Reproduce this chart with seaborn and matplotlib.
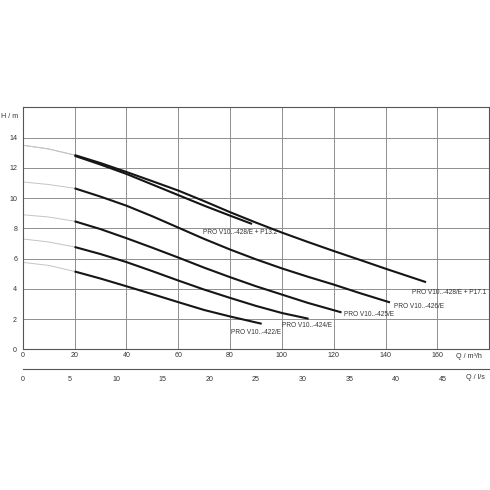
import matplotlib
matplotlib.use("Agg")
import matplotlib.pyplot as plt
import seaborn as sns
import pandas as pd

# ---- data (Q in m3/h, H in m) ----
names = ["PRO V10..-428/E + P17.1", "PRO V10..-428/E + P13.2", "PRO V10..-426/E",
         "PRO V10..-425/E", "PRO V10..-424/E", "PRO V10..-422/E"]

thin_q = [0, 10, 20]
thin_h = [
    [13.5, 13.25, 12.85],
    [13.5, 13.25, 12.85],
    [11.07, 10.9, 10.65],
    [8.9, 8.75, 8.47],
    [7.3, 7.1, 6.77],
    [5.75, 5.55, 5.15],
]

q1 = [20, 30, 40, 50, 60, 70, 80, 90, 100, 110, 120, 130, 140, 150, 155.6]
h1 = [12.85, 12.32, 11.73, 11.12, 10.5, 9.8, 9.07, 8.38, 7.72, 7.1, 6.5, 5.92, 5.33, 4.76, 4.44]
q2 = [20, 30, 40, 50, 60, 70, 80, 88.5]
h2 = [12.8, 12.22, 11.6, 10.9, 10.2, 9.5, 8.84, 8.29]
q3 = [20, 30, 40, 50, 60, 70, 80, 90, 100, 110, 120, 130, 141.7]
h3 = [10.65, 10.1, 9.5, 8.8, 8.05, 7.3, 6.6, 5.95, 5.35, 4.8, 4.28, 3.72, 3.1]
q4 = [20, 30, 40, 50, 60, 70, 80, 90, 100, 110, 123]
h4 = [8.47, 7.95, 7.35, 6.72, 6.07, 5.4, 4.77, 4.17, 3.62, 3.07, 2.44]
q5 = [20, 30, 40, 50, 60, 70, 80, 90, 100, 110.3]
h5 = [6.77, 6.3, 5.77, 5.17, 4.55, 3.95, 3.4, 2.87, 2.4, 2.02]
q6 = [20, 30, 40, 50, 60, 70, 80, 92.2]
h6 = [5.15, 4.68, 4.17, 3.65, 3.12, 2.6, 2.17, 1.69]

thick_q = [q1, q2, q3, q4, q5, q6]
thick_h = [h1, h2, h3, h4, h5, h6]

# label anchor (left edge, vertical centre) in data units
label_q = [150.1, 69.6, 143.4, 124.0, 100.2, 80.5]
label_h = [3.77, 7.73, 2.80, 2.29, 1.60, 1.09]

x_ticks = [0, 20, 40, 60, 80, 100, 120, 140, 160]
y_ticks = [0, 2, 4, 6, 8, 10, 12, 14]
ls_ticks = [0, 5, 10, 15, 20, 25, 30, 35, 40, 45, 50]
ls_labels = ["0", "5", "10", "15", "20", "25", "30", "35", "40", "45", ""]

# ---- style ----
sns.set_style("white")
plt.rcParams["font.family"] = ["Liberation Sans", "DejaVu Sans"]
txt_col = "#333333"
fs = 4.7
fs_tick = 5.1

fig = plt.figure(figsize=(4.9, 4.9), dpi=100)
W = H = 490.0
left, right = 22.7 / W, 489.3 / W
bottom, top = 1 - 349.3 / H, 1 - 107.4 / H
ax = fig.add_axes([left, bottom, right - left, top - bottom])

frames = []
for i, n in enumerate(names):
    frames.append(pd.DataFrame({"Q": thin_q, "H": thin_h[i], "curve": n, "part": "thin"}))
    frames.append(pd.DataFrame({"Q": thick_q[i], "H": thick_h[i], "curve": n, "part": "thick"}))
df = pd.concat(frames, ignore_index=True)

for n in names:
    d = df[(df.curve == n) & (df.part == "thin")]
    sns.lineplot(data=d, x="Q", y="H", ax=ax, color="#c4c4c4", lw=0.7,
                 estimator=None, sort=False, legend=False)
for n in names:
    d = df[(df.curve == n) & (df.part == "thick")]
    sns.lineplot(data=d, x="Q", y="H", ax=ax, color="#151515", lw=1.5,
                 estimator=None, sort=False, legend=False, solid_capstyle="butt")

for n, lq, lh in zip(names, label_q, label_h):
    ax.text(lq, lh, n, fontsize=fs, color=txt_col, ha="left", va="center")

ax.set_xlim(0, 180)
ax.set_ylim(0, 16)
ax.set_xticks(x_ticks)
ax.set_yticks(y_ticks)
ax.set_xticklabels([str(v) for v in x_ticks])
ax.set_yticklabels([str(v) for v in y_ticks])
ax.grid(True, color="#8f8f8f", lw=0.7)
ax.set_axisbelow(True)
ax.tick_params(axis="both", length=0, labelsize=fs_tick, colors=txt_col)
ax.tick_params(axis="x", pad=2.2)
ax.tick_params(axis="y", pad=4)
for s in ax.spines.values():
    s.set_color("#555555")
    s.set_linewidth(0.8)
ax.set_xlabel("")
ax.set_ylabel("")

fig.text(1 / W, 1 - 116.7 / H, "H / m", fontsize=fs_tick, color=txt_col, ha="left", va="center")
fig.text(456 / W, 1 - 356 / H, "Q / m³/h", fontsize=fs_tick, color=txt_col, ha="left", va="center")

# secondary flow axis in l/s
ax2 = fig.add_axes([left, 1 - 369.3 / H, right - left, 0.0001])
ax2.set_facecolor("none")
for k in ["top", "left", "right"]:
    ax2.spines[k].set_visible(False)
ax2.spines["bottom"].set_color("#555555")
ax2.spines["bottom"].set_linewidth(0.8)
ax2.set_xlim(0, 50)
ax2.set_yticks([])
ax2.set_xticks(ls_ticks)
ax2.set_xticklabels(ls_labels)
ax2.tick_params(axis="x", direction="out", length=2.5, width=0.7, color="#555555",
                labelsize=fs_tick, colors=txt_col, pad=2.2)
fig.text(466 / W, 1 - 377.5 / H, "Q / l/s", fontsize=fs_tick, color=txt_col, ha="left", va="center")

fig.savefig("out.png", dpi=100)
